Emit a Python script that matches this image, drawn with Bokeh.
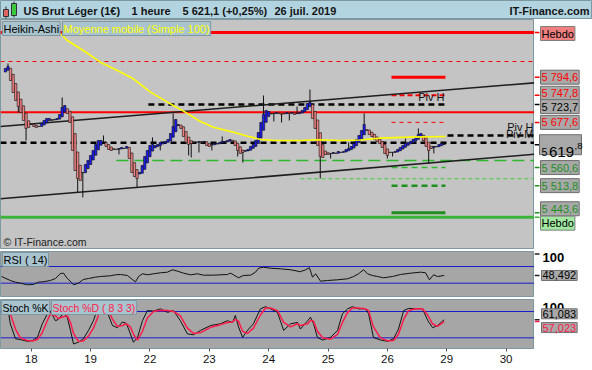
import numpy as np
from bokeh.plotting import figure
from bokeh.layouts import column, row
from bokeh.models import Range1d, Label, FixedTicker
from bokeh.core.properties import value
from bokeh.embed import file_html
from bokeh.resources import INLINE

FONT = "Liberation Sans"

# ---------------- data ----------------
title_parts = ["US Brut Léger (1€)", "1 heure", "5 621,1 (+0,25%)", "26 juil. 2019"]
site_name = "IT-Finance.com"

# Heikin-Ashi closes, one per hour
ha_close = [
    5817.2, 5822.3, 5786.1, 5755.0, 5734.3, 5718.8, 5703.2, 5682.5, 5661.8, 5664.4,
    5672.2, 5667.0, 5664.4, 5667.0, 5674.8, 5682.5, 5687.7, 5687.7, 5682.5, 5685.1,
    5687.7, 5698.1, 5716.2, 5721.4, 5700.6, 5677.3, 5604.9, 5553.1, 5532.4, 5527.2,
    5547.9, 5568.6, 5579.0, 5591.9, 5604.9, 5620.4, 5630.7, 5630.7, 5625.6, 5615.2,
    5607.4, 5604.9, 5607.4, 5607.4, 5610.0, 5612.6, 5610.0, 5615.2, 5584.1, 5547.9,
    5537.5, 5532.4, 5547.9, 5566.0, 5589.3, 5604.9, 5617.8, 5620.4, 5617.8, 5620.4,
    5625.6, 5625.6, 5628.2, 5633.3, 5648.9, 5667.0, 5685.1, 5672.2, 5661.8, 5641.1,
    5625.6, 5620.4, 5623.0, 5625.6, 5625.6, 5628.2, 5625.6, 5628.2, 5617.8, 5615.2,
    5620.4, 5623.0, 5623.0, 5625.6, 5628.2, 5628.2, 5630.7, 5633.3, 5628.2, 5617.8,
    5604.9, 5597.1, 5599.7, 5604.9, 5607.4, 5615.2, 5620.4, 5630.7, 5651.5, 5677.3,
    5698.1, 5708.4, 5705.8, 5700.6, 5700.6, 5703.2, 5700.6, 5698.1, 5700.6, 5703.2,
    5700.6, 5703.2, 5698.1, 5700.6, 5703.2, 5708.4, 5716.2, 5726.5, 5729.1, 5687.7,
    5661.8, 5617.8, 5589.3, 5586.7, 5594.5, 5594.5, 5597.1, 5599.7, 5597.1, 5602.3,
    5599.7, 5602.3, 5607.4, 5610.0, 5615.2, 5623.0, 5633.3, 5643.7, 5656.6, 5672.2,
    5656.6, 5646.3, 5641.1, 5633.3, 5628.2, 5623.0, 5612.6, 5597.1, 5591.9, 5599.7,
    5599.7, 5602.3, 5607.4, 5612.6, 5617.8, 5623.0, 5625.6, 5628.2, 5633.3, 5638.5,
    5646.3, 5648.9, 5630.7, 5615.2, 5604.9, 5610.0, 5615.2, 5615.2, 5620.4, 5623.0,
    5621.1,
]
ha_first_open = 5808.0
wick_high = {1: 5830.1, 22: 5742.1, 38: 5643.7, 57: 5638.5, 65: 5700.6, 84: 5641.1,
             100: 5747.2, 113: 5718.8, 118: 5762.8, 133: 5625.6, 139: 5700.6, 155: 5636.0,
             160: 5661.8}
wick_low = {5: 5703.2, 8: 5630.7, 28: 5496.1, 30: 5483.2, 44: 5594.5, 51: 5509.1, 60: 5604.9,
            71: 5591.9, 72: 5586.7, 75: 5599.7, 80: 5604.9, 90: 5589.3, 92: 5573.8,
            104: 5680.0, 107: 5677.3, 110: 5682.5, 122: 5532.4, 126: 5584.1, 148: 5584.1,
            150: 5589.3, 164: 5571.2, 166: 5597.1}

# Moving average (Simple 100)
ma_x = [21.3, 24, 30.2, 36.8, 43.4, 49.6, 56.2, 62.8, 69, 75.6, 80.6, 88.4, 95, 98.8,
        104.7, 114.3, 120.9, 129.8, 137.6, 145.3, 157, 170.5]
ma_val = [5907.8, 5889.6, 5863.8, 5833.5, 5812.0, 5790.5, 5755.8, 5729.9, 5706.6, 5679.9,
          5665.2, 5652.2, 5640.0, 5633.3, 5630.7, 5630.7, 5632.5, 5630.7, 5632.0, 5636.7,
          5639.3, 5641.1]

# trend channel
chan_x = [-1.9, 205]
chan_upper = [5667.0, 5780.1]
chan_lower = [5479.8, 5595.0]

# horizontal levels
level_price = [5910.3, 5835.2, 5794.6, 5747.8, 5723.7, 5704.0, 5677.6, 5643.7, 5624.8,
               5578.9, 5560.6, 5531.6, 5513.8, 5443.6, 5432.2]
level_start = [-1.9, -1.9, 149.6, 149.6, 55.4, -1.9, 149.6, 171.3, -1.9,
               43.0, 149.6, 114.3, 149.6, 149.6, -1.9]
level_end = [205, 205, 170.5, 170.5, 170.5, 205, 170.5, 205, 205,
             205, 170.5, 205, 170.5, 170.5, 205]

pivot_text = ["Piv H", "Piv H", "Piv M"]
pivot_x = [170.5, 205, 205]
pivot_y = [5729.0, 5649.0, 5630.7]

last_price = 5619.8

rsi_x = [-1.5, 1.9, 3.9, 5.8, 8.5, 10.9, 12.8, 14.7, 17.4, 19.4, 21.3, 22.5, 24, 25.6, 26.4,
         28.3, 30.2, 32.2, 34.9, 36.8, 40.7, 42.6, 44.6, 47.3, 49.2, 50.4, 51.6, 53.1, 55,
         57.4, 60.1, 62.8, 64.7, 66.7, 69, 71.7, 74.4, 76.7, 80.6, 86, 87.2, 88.4, 90.3,
         92.2, 95, 96.9, 98.1, 100, 102.7, 106.6, 110.5, 114.3, 116.3, 117.8, 119, 120.2,
         122.1, 124.8, 128.7, 132.6, 134.9, 136.8, 138.8, 140.3, 142.2, 144.2, 146.5, 150,
         153.1, 157, 160.9, 162.8, 164.3, 165.9, 167.4, 170]
rsi_val = [46.0, 36.4, 32.4, 30.0, 26.1, 26.9, 32.4, 33.3, 36.4, 41.2, 53.2, 54.0, 41.2, 31.7,
           26.1, 30.0, 38.8, 41.2, 44.4, 46.0, 47.7, 50.1, 50.8, 48.4, 38.8, 33.3, 46.0, 52.5,
           50.1, 52.5, 54.9, 56.4, 62.1, 58.8, 54.0, 50.1, 52.5, 49.2, 49.2, 50.8, 54.0, 50.1,
           42.9, 48.4, 49.2, 56.4, 65.9, 68.3, 65.9, 64.5, 62.1, 57.5, 62.1, 66.9, 44.4, 52.5,
           34.8, 36.4, 38.1, 40.5, 46.0, 52.5, 62.1, 52.5, 48.4, 46.0, 42.9, 46.0, 50.8, 54.0,
           56.4, 54.9, 38.1, 50.1, 46.0, 48.5]
rsi_last = "48,492"

stoch_x = [0, 1.2, 1.9, 3.9, 5.8, 8.5, 10.5, 12.4, 14.3, 16.3, 17.4, 19.4, 20.5, 22.5, 24,
           25.2, 26.4, 28.3, 30.2, 32.2, 34.1, 35.7, 36.8, 38.4, 39.5, 41.5, 43.4, 45.3, 46.9,
           48.4, 49.6, 51.2, 53.1, 55, 57.4, 60.1, 62.8, 65.1, 67.8, 70.5, 72.9, 75.6, 79.5,
           83.3, 86, 88, 89.1, 90.3, 91.9, 93.8, 96.1, 98.8, 100.8, 102.7, 105.4, 107.8, 110.5,
           113.2, 114.3, 117.1, 118.2, 119.4, 120.9, 122.9, 126, 128.7, 130.6, 132.6, 134.5,
           136.8, 139.5, 140.7, 142.6, 145.3, 148.1, 150.4, 152.3, 154.3, 156.2, 158.9, 161.6,
           163.6, 165.5, 167.4, 170]
stoch_k = [92, 78, 52, 18, 16, 12, 14, 21, 52, 75, 80, 59, 62, 76, 66, 37, 6, 10, 18, 37,
           59, 86, 98, 97, 78, 48, 43, 56, 53, 29, 10, 21, 59, 82, 81, 86, 78, 82, 59, 29,
           27, 37, 48, 52, 59, 55, 71, 45, 21, 37, 52, 86, 91, 86, 78, 37, 52, 55, 40, 59,
           67, 52, 21, 15, 21, 37, 75, 86, 91, 86, 86, 75, 21, 15, 12, 18, 40, 82, 87, 86,
           86, 60, 43, 48, 61.1]
stoch_d = [94, 88, 75, 40, 20, 14, 13, 16, 32, 60, 74, 70, 64, 68, 70, 55, 30, 12, 13, 24,
           42, 65, 85, 95, 88, 62, 46, 48, 52, 45, 28, 15, 35, 65, 80, 83, 82, 80, 70, 42,
           30, 32, 44, 50, 55, 56, 62, 58, 35, 30, 42, 72, 88, 88, 82, 55, 45, 52, 48, 52,
           60, 58, 35, 20, 17, 28, 55, 78, 88, 88, 86, 82, 45, 20, 13, 14, 28, 62, 82, 86,
           86, 72, 52, 46, 57]
k_last, d_last = 61.083, 57.023

day_ticks = [10, 33, 56, 79, 102, 125, 148, 171, 194]
day_labels = ["18", "19", "22", "23", "24", "25", "26", "29", "30"]

# ---------------- styling helpers ----------------
W_MAIN, W_SIDE = 534, 58
OUTLINE = "#7e98a2"
XR = Range1d(-1.9, 205)


def make_fig(w, h, xr, yr, bg, mb_bottom, outline=OUTLINE, xaxis=None):
    f = figure(width=w, height=h, x_range=xr, y_range=yr, toolbar_location=None,
               output_backend="svg", x_axis_location=xaxis, y_axis_location=None,
               background_fill_color=bg, border_fill_color="white",
               outline_line_color=outline, min_border_left=0, min_border_right=0,
               min_border_top=0, min_border_bottom=mb_bottom)
    f.xgrid.visible = False
    f.ygrid.visible = False
    return f


def lab(fig, x, y, text, color="black", size="11px", bg=None, border="#6f6f6f",
        xoff=0, yoff=0, baseline="middle", align="left", style="normal", pad=1):
    kw = dict(x=x, y=y, text=text, text_color=color, text_font=FONT, text_font_size=size,
              text_baseline=baseline, text_align=align, text_font_style=style,
              x_offset=xoff, y_offset=yoff)
    if bg is not None:
        kw.update(background_fill_color=bg, border_line_color=border, padding=pad)
    fig.add_layout(Label(**kw))


# ---------------- header ----------------
hdr = figure(width=592, height=19, x_range=Range1d(0, 592), y_range=Range1d(19, 0),
             toolbar_location=None, output_backend="svg", x_axis_location=None,
             y_axis_location=None, background_fill_color="#b2d4e0",
             border_fill_color="#b2d4e0", outline_line_color=OUTLINE, min_border=0)
hdr.xgrid.visible = False
hdr.ygrid.visible = False
logo_x = [5.5, 13.5]
logo_top = [9, 3]
logo_bottom = [16, 15]
hdr.segment(x0=logo_x, y0=[6, 1], x1=logo_x, y1=[18, 17], color="#333333", line_width=1)
hdr.vbar(x=logo_x, top=logo_top, bottom=logo_bottom, width=5,
         fill_color=["#e06464", "#3cc83c"], line_color="#333333", line_width=1)
hdr.text(x=[23, 131, 182, 274], y=[10] * 4, text=title_parts, text_font=value(FONT),
         text_font_size="11px", text_font_style="bold", text_baseline="middle",
         text_color="#151515")
hdr.text(x=[589], y=[10], text=[site_name], text_font=value(FONT), text_font_size="11px",
         text_font_style="bold", text_baseline="middle", text_align="right",
         text_color="#151515")

# ---------------- main chart ----------------
YR_MAIN = Range1d(5351, 5944)
main = make_fig(W_MAIN, 232, XR, YR_MAIN, "#c4c4c4", 3)

level_style = [
    ("#ff0000", 3, "solid"), ("#ff0000", 1, "4 4"), ("#ff0000", 3, "solid"),
    ("#ff0000", 2, "5 3"), ("#000000", 2.5, "6 4"), ("#ff0000", 2, "solid"),
    ("#ff0000", 1, "4 4"), ("#000000", 2.5, "6 4"), ("#000000", 2.5, "6 4"),
    ("#2db82d", 1.5, "12 6"), ("#2db82d", 1.5, "6 4"), ("#3ccc3c", 1, "4 3"),
    ("#1f8f1f", 2.5, "6 4"), ("#1f8f1f", 3, "solid"), ("#3cb43c", 3, "solid"),
]
for p, s, e, (c, w, d) in zip(level_price, level_start, level_end, level_style):
    main.line([s, e], [p, p], line_color=c, line_width=w, line_dash=d)

main.line(chan_x, chan_upper, line_color="#1e1e1e", line_width=1.6)
main.line(chan_x, chan_lower, line_color="#1e1e1e", line_width=1.6)

n = len(ha_close)
idx = np.arange(n)
close = np.array(ha_close)
ha_open = np.empty(n)
ha_open[0] = ha_first_open
for i in range(1, n):
    ha_open[i] = (ha_open[i - 1] + close[i - 1]) / 2
top = np.maximum(ha_open, close)
bot = np.minimum(ha_open, close)
hi = top.copy()
lo = bot.copy()
for k, v in wick_high.items():
    hi[k] = max(hi[k], v)
for k, v in wick_low.items():
    lo[k] = min(lo[k], v)
colors = np.where(close >= ha_open, "#1c1cf4", "#f28282")
main.segment(x0=idx, y0=lo, x1=idx, y1=hi, color="#111111", line_width=1)
main.vbar(x=idx, top=top, bottom=bot, width=0.9, fill_color=colors, line_color="#111111",
          line_width=0.6)

main.line(ma_x, ma_val, line_color="#ffff00", line_width=1.6)

main.text(x=pivot_x, y=pivot_y, text=pivot_text, text_font=value(FONT),
          text_font_size="11px", text_align="right", text_baseline="bottom",
          text_color="#111111", x_offset=-1)

lab(main, XR.start, YR_MAIN.end, "Heikin-Ashi", bg="#a9c4ce", border=OUTLINE,
    baseline="top", xoff=2, yoff=-2)
lab(main, XR.start, YR_MAIN.end, "Moyenne mobile (Simple 100)", color="#ffff00",
    bg="#a9c4ce", border=OUTLINE, baseline="top", xoff=62, yoff=-2)
lab(main, XR.start, YR_MAIN.start, "© IT-Finance.com", color="#222222", size="10.5px",
    baseline="bottom", xoff=3, yoff=1)

# right side price labels
main_side = make_fig(W_SIDE, 232, Range1d(0, 58), YR_MAIN, "white", 3, outline=None)
tick_prices = [5910.3, 5794.6, 5747.8, 5723.7, 5677.6, 5619.8, 5560.6, 5513.8, 5443.6, 5432.2]
tick_colors = ["#ff0000", "#ff0000", "#ff0000", "#000000", "#ff0000", "#000000",
               "#1f8f1f", "#1f8f1f", "#1f8f1f", "#3cb43c"]
main_side.segment(x0=0, y0=tick_prices, x1=5, y1=tick_prices, color=tick_colors, line_width=1.5)

GRAYBOX = "#a8a8a8"
lab(main_side, 6, level_price[0], "Hebdo", bg="#f08080", border="#808080", yoff=-1)
lab(main_side, 6, level_price[2], "5 794,6", color="#ff0000", bg=GRAYBOX)
lab(main_side, 6, level_price[3], "5 747,8", color="#ff0000", bg=GRAYBOX, yoff=2)
lab(main_side, 6, level_price[4], "5 723,7", color="#000000", bg=GRAYBOX, yoff=-2)
lab(main_side, 6, level_price[6], "5 677,6", color="#ff0000", bg=GRAYBOX)
lab(main_side, 6, level_price[10], "5 560,6", color="#1f8f1f", bg=GRAYBOX)
lab(main_side, 6, level_price[12], "5 513,8", color="#1f8f1f", bg=GRAYBOX)
lab(main_side, 6, level_price[13], "5 443,6", color="#1f8f1f", bg=GRAYBOX, yoff=4)
lab(main_side, 6, level_price[14], "Hebdo", bg="#a2e8a2", border="#808080", yoff=-6)

main_side.rect(x=[26], y=[last_price], width=42, height=20, height_units="screen",
               fill_color=GRAYBOX, line_color="#6f6f6f")
lab(main_side, 7, last_price, "5", size="10.5px", baseline="alphabetic", yoff=-7)
lab(main_side, 14.5, last_price, "619", size="15px", baseline="alphabetic", yoff=-7)
lab(main_side, 40, last_price, ",8", size="9.5px", baseline="alphabetic", yoff=-1)

# ---------------- RSI ----------------
YR_RSI = Range1d(-2, 106)
rsi = make_fig(W_MAIN, 48, XR, YR_RSI, "#a6a6a6", 3)
rsi_arr = np.array(rsi_val)
rsi.varea(x=rsi_x, y1=np.minimum(rsi_arr, 30), y2=30, fill_color="#86dcea")
for lvl in (70, 30):
    rsi.line([XR.start, XR.end], [lvl, lvl], line_color="#1c1ccc", line_width=1)
rsi.line(rsi_x, rsi_val, line_color="#111111", line_width=1)
lab(rsi, XR.start, YR_RSI.end, "RSI ( 14)", bg="#a9c4ce", border=OUTLINE, baseline="top",
    xoff=2, yoff=-1)

rsi_side = make_fig(W_SIDE, 48, Range1d(0, 58), YR_RSI, "white", 3, outline=None)
rsi_side.segment(x0=0, y0=[100, rsi_val[-1]], x1=5, y1=[100, rsi_val[-1]], color="#222222",
                 line_width=1.5)
lab(rsi_side, 8, 100, "100", size="13px", style="bold", yoff=-3)
lab(rsi_side, 7, rsi_val[-1], rsi_last, bg=GRAYBOX)

# ---------------- Stochastic ----------------
YR_STO = Range1d(-4.3, 107.3)
sto = make_fig(W_MAIN, 71, XR, YR_STO, "#a6a6a6", 22, xaxis="below")
for lvl in (80, 20):
    sto.line([XR.start, XR.end], [lvl, lvl], line_color="#1c1ccc", line_width=1)
sto.line(stoch_x, stoch_k, line_color="#111111", line_width=1)
sto.line(stoch_x, stoch_d, line_color="#ff1a4a", line_width=1.5)
lab(sto, XR.start, YR_STO.end, "Stoch %K", size="10.5px", bg="#a9c4ce", border=OUTLINE,
    baseline="top", xoff=1, yoff=-1)
lab(sto, XR.start, YR_STO.end, "Stoch %D ( 8 3 3)", size="10.5px", color="#ff1a4a",
    bg="#a9c4ce", border=OUTLINE, baseline="top", xoff=51, yoff=-1)

ax = sto.xaxis[0]
ax.ticker = FixedTicker(ticks=day_ticks)
ax.major_label_overrides = {t: l for t, l in zip(day_ticks, day_labels)}
ax.axis_line_color = None
ax.major_tick_line_color = "#555555"
ax.major_tick_out = 3
ax.major_tick_in = 0
ax.minor_tick_line_color = None
ax.major_label_standoff = 3
ax.major_label_text_font = FONT
ax.major_label_text_font_size = "11.5px"
ax.major_label_text_color = "#111111"

sto_side = make_fig(W_SIDE, 71, Range1d(0, 58), YR_STO, "white", 22, outline=None)
sto_side.segment(x0=0, y0=[k_last, d_last], x1=5, y1=[k_last, d_last],
                 color=["#222222", "#ff1a4a"], line_width=1.5)
lab(sto_side, 8, 100, "100", size="13px", style="bold", yoff=-5)
lab(sto_side, 7, k_last, "61,083", bg=GRAYBOX, yoff=6)
lab(sto_side, 7, d_last, "57,023", color="#ff1a4a", bg=GRAYBOX, yoff=-6)

layout = column(hdr, row(main, main_side), row(rsi, rsi_side), row(sto, sto_side))

open("out.html", "w").write(file_html(layout, INLINE))
